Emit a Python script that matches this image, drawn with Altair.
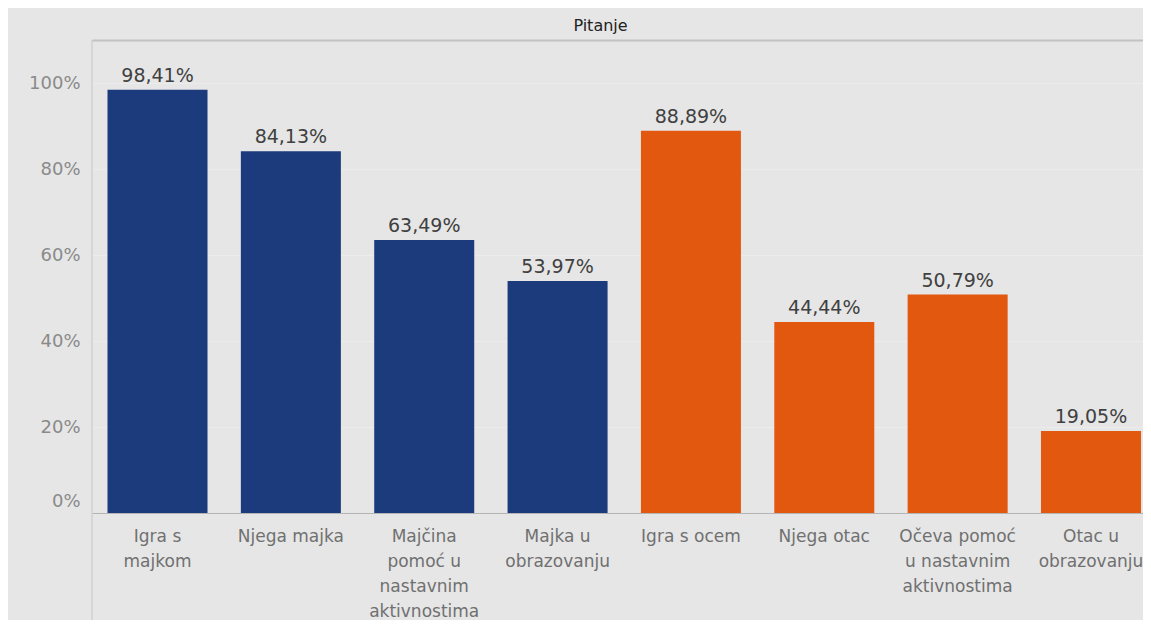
import altair as alt
import pandas as pd

categories = ["Igra s|majkom", "Njega majka", "Majčina|pomoć u|nastavnim|aktivnostima",
              "Majka u|obrazovanju", "Igra s ocem", "Njega otac",
              "Očeva pomoć|u nastavnim|aktivnostima", "Otac u|obrazovanju"]
values = [98.41, 84.13, 63.49, 53.97, 88.89, 44.44, 50.79, 19.05]
groups = ["Majka", "Majka", "Majka", "Majka", "Otac", "Otac", "Otac", "Otac"]
y_ticks = [0, 20, 40, 60, 80, 100]

df = pd.DataFrame({"cat": categories, "value": values, "group": groups})
df["lab"] = [f"{v:.2f}".replace(".", ",") + "%" for v in values]

FONT = "DejaVu Sans"
NAVY = "#1b3b7c"
ORANGE = "#e2580e"

xscale = alt.Scale(paddingInner=0.25, paddingOuter=0.0656, align=0.886)
yscale = alt.Scale(domain=[0, 110], nice=False)

base = alt.Chart(df)

bars = base.mark_bar().encode(
    x=alt.X("cat:N", sort=categories, scale=xscale,
            axis=alt.Axis(orient="bottom", title=None, labelAngle=0,
                          labelExpr="split(datum.label, '|')",
                          labelFont=FONT, labelFontSize=17, labelColor="#707070",
                          labelLineHeight=25, labelPadding=15, labelBaseline="top",
                          ticks=False, domain=True, domainColor="#b4b4b4", domainWidth=1,
                          labelLimit=200)),
    y=alt.Y("value:Q", scale=yscale,
            axis=alt.Axis(title=None, values=y_ticks, labelExpr="datum.value + '%'",
                          labelFont=FONT, labelFontSize=18, labelColor="#8a8a8a",
                          labelPadding=12, ticks=False, domain=False,
                          grid=True, gridColor="#ececec", gridWidth=1,
                          labelOffset=alt.condition("datum.value == 0", alt.value(-12), alt.value(0)))),
    color=alt.Color("group:N", scale=alt.Scale(domain=["Majka", "Otac"], range=[NAVY, ORANGE]),
                    legend=None),
)

text = base.mark_text(baseline="alphabetic", dy=-8, fontSize=19, color="#404040", font=FONT).encode(
    x=alt.X("cat:N", sort=categories, scale=xscale,
            axis=alt.Axis(orient="top", title="Pitanje", labels=False, ticks=False,
                          domain=True, domainColor="#c2c2c2", domainWidth=2,
                          titleFont=FONT, titleFontSize=16, titleFontWeight="normal",
                          titleColor="#222222", titleX=508, titleY=-15,
                          titleAlign="center", titleBaseline="middle")),
    y=alt.Y("value:Q", scale=yscale),
    text="lab:N",
)

divider = alt.Chart(pd.DataFrame({"a": [0]})).mark_rule(color="#c6c6c6", strokeWidth=1).encode(
    x=alt.value(0), y=alt.value(0), y2=alt.value(600)
)

chart = alt.layer(bars, text, divider).resolve_axis(x="independent").properties(
    width=1051, height=473,
    autosize=alt.AutoSizeParams(type="none"),
    padding={"left": 84, "top": 32, "right": 0, "bottom": 107},
    background="#e6e6e6",
).configure_view(stroke=None)

chart.save("out.html", embed_options={"renderer": "svg", "actions": False})
